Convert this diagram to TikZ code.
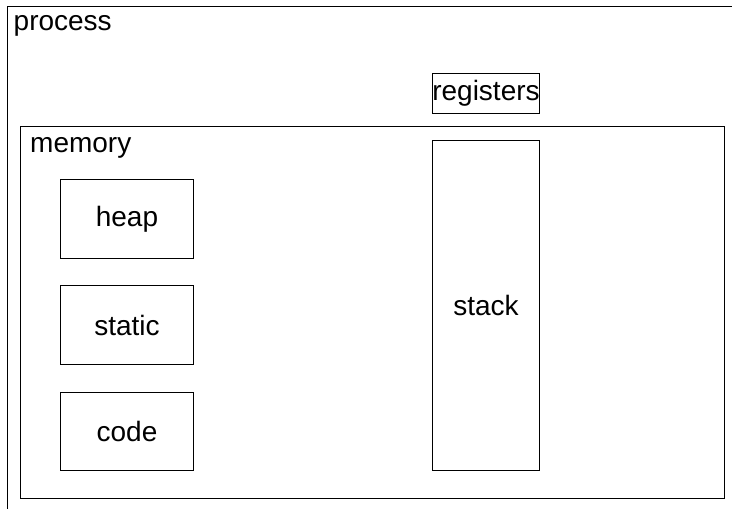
\documentclass[tikz,border=0pt]{standalone}
\usepackage{fontspec}
\setmainfont{Liberation Sans}
\begin{document}
\begin{tikzpicture}[x=1pt,y=-1pt,
  box/.style={draw, line width=1pt, inner sep=0pt, anchor=north west},
  lbl/.style={font=\fontsize{28}{32}\selectfont, inner sep=0pt}]
  \clip (0,0) rectangle (732,509);
  \fill[white] (0,0) rectangle (732,509);
  % outer process frame, running past the right and bottom edges
  \node[box, minimum width=740, minimum height=516] (process) at (7,6) {};
  \node[lbl, anchor=base west] (processlabel) at (13.5,30) {process};
  % register file
  \node[box, minimum width=107, minimum height=40] (regbox) at (432,73) {};
  \node[lbl] (registers) at (regbox.center) {registers};
  % memory and its segments
  \node[box, minimum width=704, minimum height=372] (memory) at (20,126) {};
  \node[lbl, anchor=base west] (memorylabel) at (30,152) {memory};
  \node[box, minimum width=133, minimum height=79] (heapbox) at (60,179) {};
  \node[lbl] (heap) at (heapbox.center) {heap};
  \node[box, minimum width=133, minimum height=79] (staticbox) at (60,285) {};
  \node[lbl] (static) at (staticbox.center) {static};
  \node[box, minimum width=133, minimum height=78] (codebox) at (60,392) {};
  \node[lbl] (code) at (codebox.center) {code};
  \node[box, minimum width=107, minimum height=330] (stackbox) at (432,140) {};
  \node[lbl] (stack) at (stackbox.center) {stack};
\end{tikzpicture}
\end{document}
